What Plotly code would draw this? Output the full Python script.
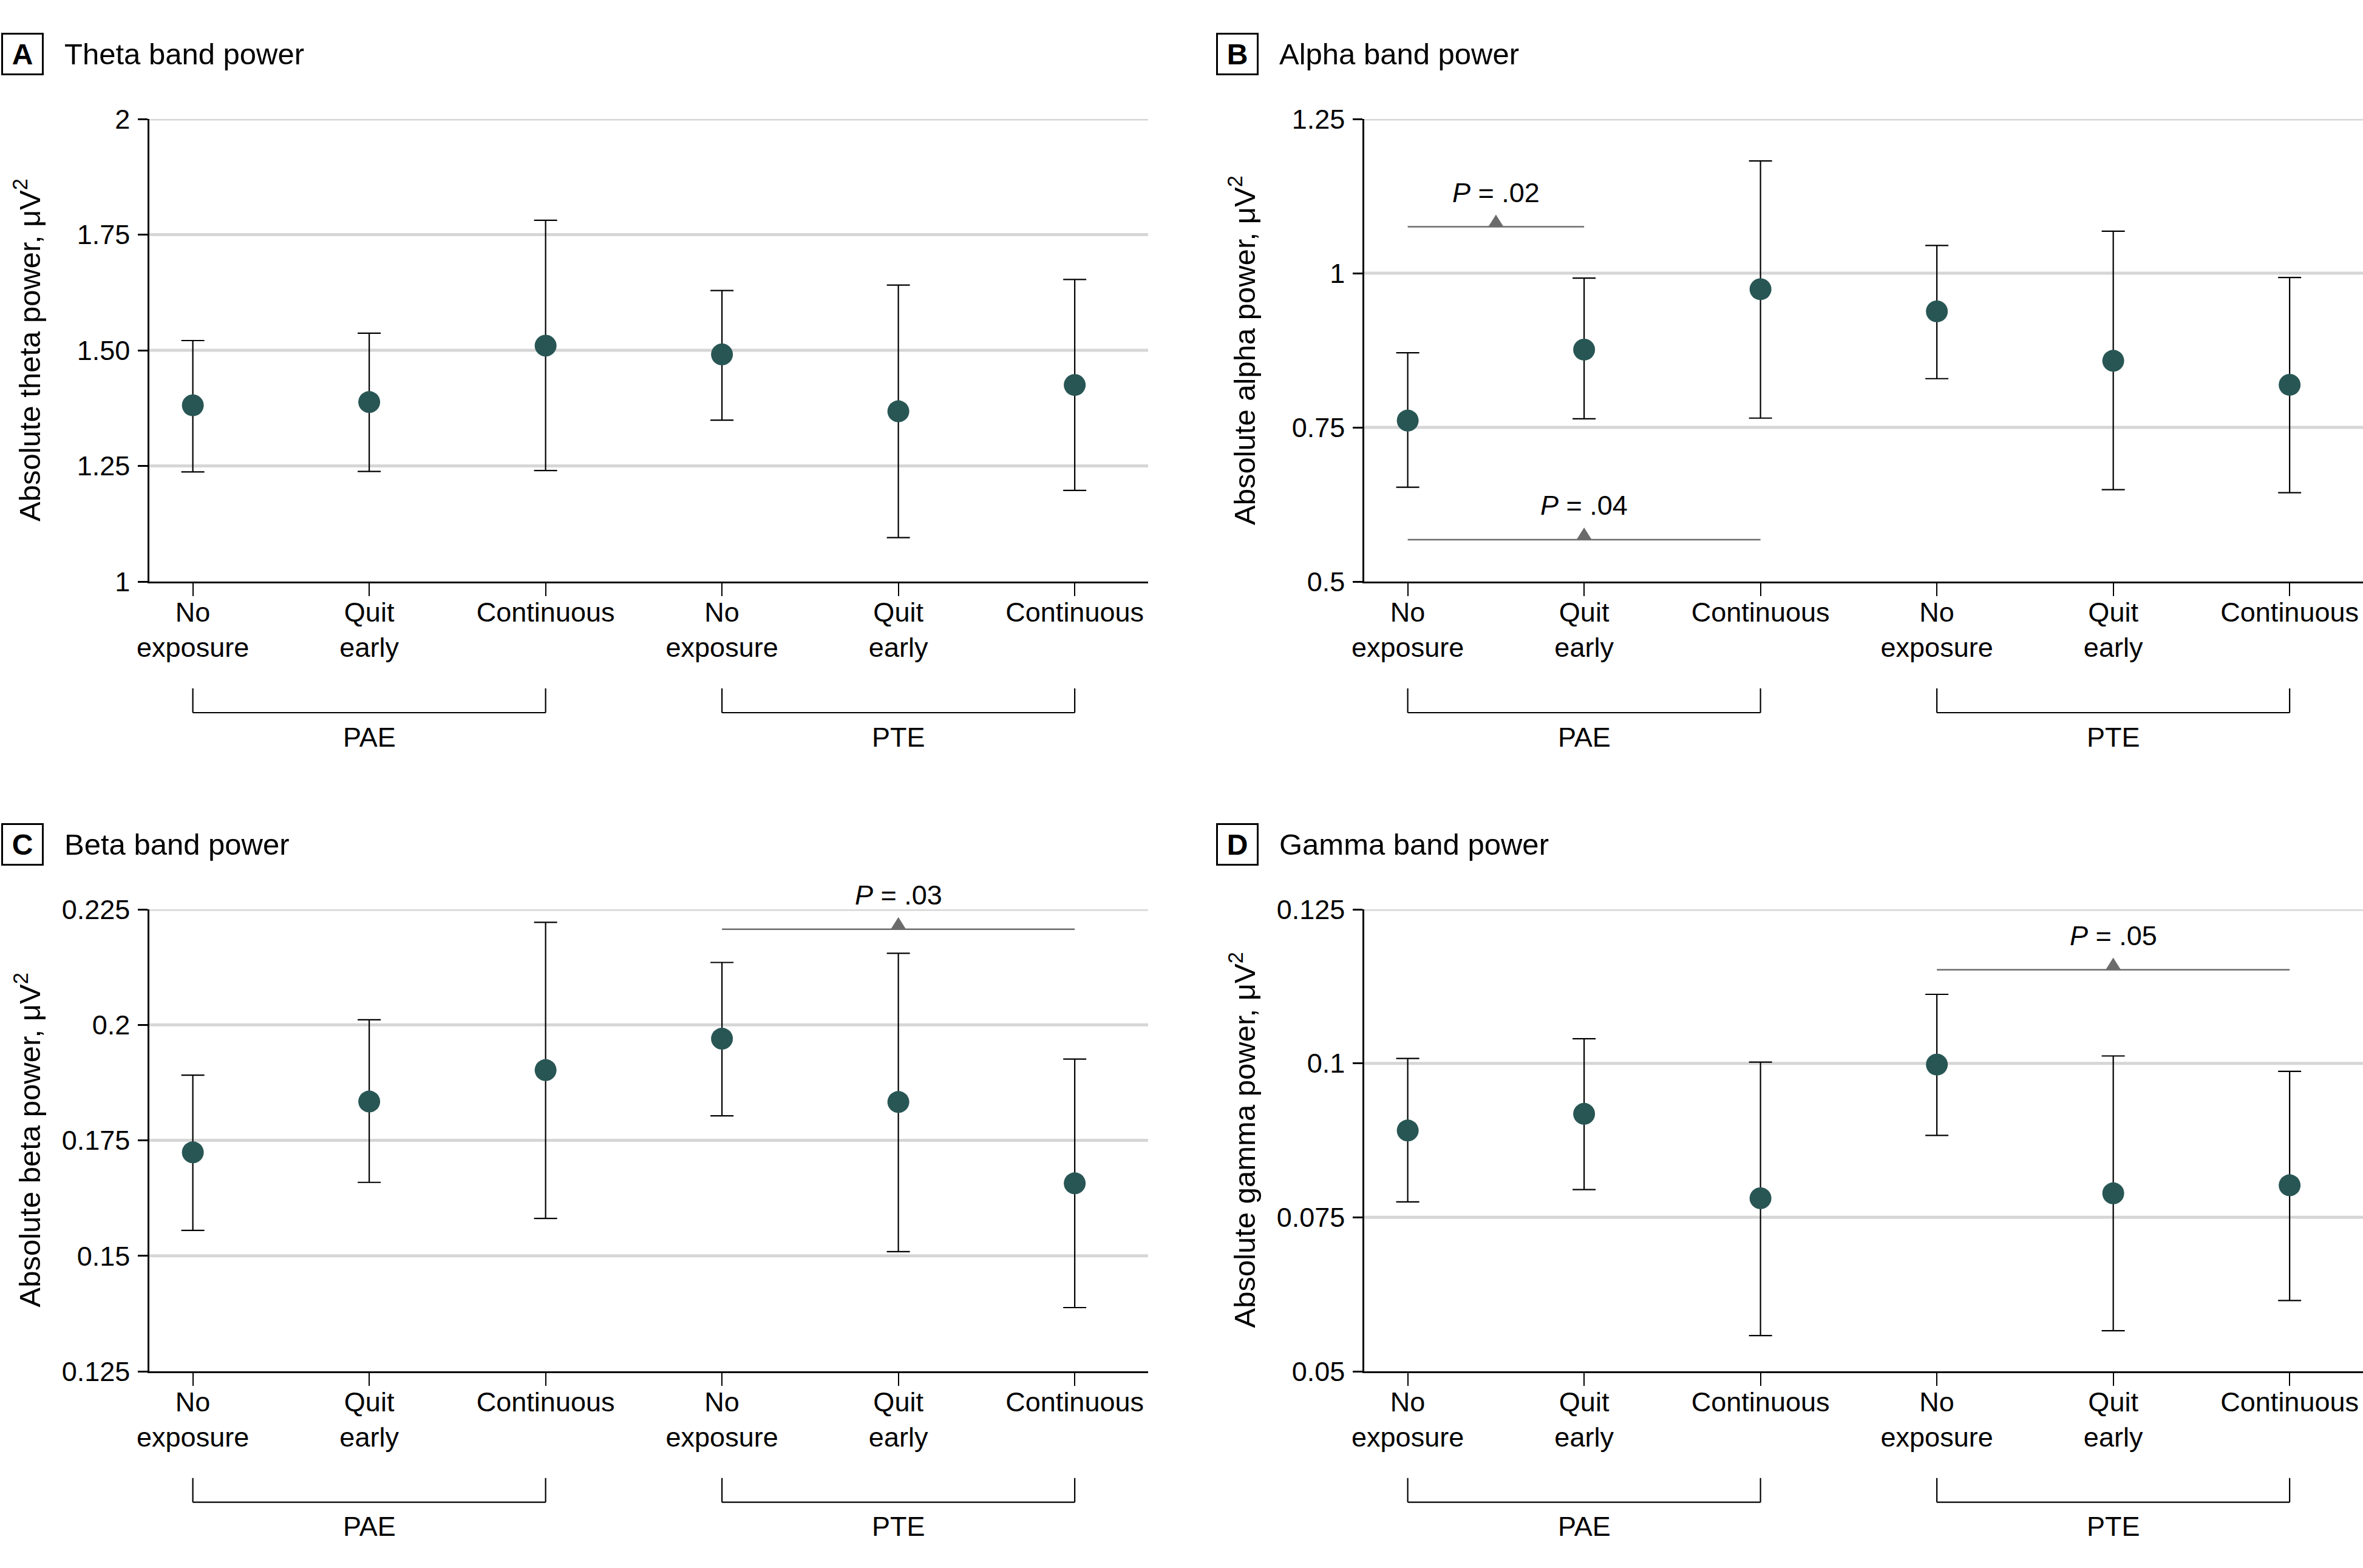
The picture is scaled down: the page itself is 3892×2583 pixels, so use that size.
import plotly.graph_objects as go

# ---------------- data ----------------
categories = ["No<br>exposure", "Quit<br>early", "Continuous",
              "No<br>exposure", "Quit<br>early", "Continuous"]
cat_pos = [0, 1, 2, 3, 4, 5]
groups = ["PAE", "PTE"]
group_spans = [(0, 2), (3, 5)]

theta_mean = [1.381, 1.388, 1.510, 1.491, 1.368, 1.425]
theta_low = [1.237, 1.238, 1.240, 1.349, 1.095, 1.197]
theta_high = [1.521, 1.537, 1.781, 1.629, 1.641, 1.653]

alpha_mean = [0.761, 0.876, 0.974, 0.938, 0.858, 0.819]
alpha_low = [0.653, 0.764, 0.765, 0.829, 0.649, 0.644]
alpha_high = [0.871, 0.992, 1.182, 1.045, 1.068, 0.993]

beta_mean = [0.1724, 0.1834, 0.1902, 0.1970, 0.1833, 0.1657]
beta_low = [0.1555, 0.1659, 0.1581, 0.1803, 0.1509, 0.1388]
beta_high = [0.1891, 0.2011, 0.2222, 0.2135, 0.2155, 0.1926]

gamma_mean = [0.0891, 0.0918, 0.0781, 0.0998, 0.0789, 0.0802]
gamma_low = [0.0775, 0.0795, 0.0558, 0.0883, 0.0566, 0.0615]
gamma_high = [0.1008, 0.1040, 0.1002, 0.1112, 0.1012, 0.0987]

# significance comparisons: (from category, to category, label, bracket value)
alpha_sig = [(0, 1, ".02", 1.0754), (0, 2, ".04", 0.568)]
beta_sig = [(3, 5, ".03", 0.2207)]
gamma_sig = [(3, 5, ".05", 0.1152)]

panels = [
    dict(letter="A", title="Theta band power", ylabel="Absolute theta power, μV<sup>2</sup>",
         mean=theta_mean, low=theta_low, high=theta_high, yrange=[1, 2],
         tickvals=[1, 1.25, 1.5, 1.75, 2], ticktext=["1", "1.25", "1.50", "1.75", "2"], sig=[]),
    dict(letter="B", title="Alpha band power", ylabel="Absolute alpha power, μV<sup>2</sup>",
         mean=alpha_mean, low=alpha_low, high=alpha_high, yrange=[0.5, 1.25],
         tickvals=[0.5, 0.75, 1, 1.25], ticktext=["0.5", "0.75", "1", "1.25"], sig=alpha_sig),
    dict(letter="C", title="Beta band power", ylabel="Absolute beta power, μV<sup>2</sup>",
         mean=beta_mean, low=beta_low, high=beta_high, yrange=[0.125, 0.225],
         tickvals=[0.125, 0.15, 0.175, 0.2, 0.225], ticktext=["0.125", "0.15", "0.175", "0.2", "0.225"],
         sig=beta_sig),
    dict(letter="D", title="Gamma band power", ylabel="Absolute gamma power, μV<sup>2</sup>",
         mean=gamma_mean, low=gamma_low, high=gamma_high, yrange=[0.05, 0.125],
         tickvals=[0.05, 0.075, 0.1, 0.125], ticktext=["0.05", "0.075", "0.1", "0.125"], sig=gamma_sig),
]

# ---------------- layout constants ----------------
W, H = 3892, 2583
FONT = "Liberation Sans, Arial, sans-serif"
MARK = "#285654"
SIGC = "#6b6b6b"
GRID = "#d6d6d6"
x_domains = [[246 / W, 1891 / W], [2247 / W, 1.0]]
y_domains = [[1 - 958 / H, 1 - 196 / H], [1 - 2259 / H, 1 - 1498 / H]]
PLOT_W = 1645
PLOT_H = 762
XRANGE = [-0.2465, 5.416]

fig = go.Figure()
layout = dict(width=W, height=H,
              margin=dict(l=0, r=0, t=0, b=0, pad=0, autoexpand=False),
              paper_bgcolor="white", plot_bgcolor="white", showlegend=False,
              font=dict(family=FONT, size=45, color="black"))
shapes = []
annotations = []

for i, p in enumerate(panels):
    row, col = divmod(i, 2)
    n = "" if i == 0 else str(i + 1)
    xa, ya = "x" + n, "y" + n
    xd, yd = xa + " domain", ya + " domain"

    # horizontal grid lines (all ticks except the bottom one, which is the axis)
    for v in p["tickvals"]:
        if v == p["yrange"][0]:
            continue
        shapes.append(dict(type="line", xref=xd, yref=ya, x0=0, x1=1, y0=v, y1=v,
                           layer="below", line=dict(color=GRID, width=5)))

    err_plus = [h - m for h, m in zip(p["high"], p["mean"])]
    err_minus = [m - l for m, l in zip(p["mean"], p["low"])]
    fig.add_trace(go.Scatter(
        x=cat_pos, y=p["mean"], mode="markers", xaxis=xa, yaxis=ya,
        marker=dict(size=36, color=MARK),
        error_y=dict(type="data", array=err_plus, arrayminus=err_minus,
                     color="black", thickness=2.2, width=19),
        hoverinfo="skip", cliponaxis=False))
    layout["xaxis" + n] = dict(
        domain=x_domains[col], anchor=ya, range=XRANGE, automargin=False,
        tickvals=cat_pos, ticktext=categories, showgrid=False, zeroline=False,
        showline=True, linecolor="black", linewidth=2.5,
        ticks="outside", ticklen=21, tickwidth=2, tickcolor="black",
        tickfont=dict(family=FONT, size=45, color="black"), ticklabelstandoff=-12)
    layout["yaxis" + n] = dict(
        domain=y_domains[row], anchor=xa, range=p["yrange"], automargin=False,
        tickvals=p["tickvals"], ticktext=p["ticktext"],
        showgrid=False, zeroline=False,
        showline=True, linecolor="black", linewidth=2.5,
        ticks="outside", ticklen=16, tickwidth=2.5, tickcolor="black",
        tickfont=dict(family=FONT, size=45, color="black"), ticklabelstandoff=4)

    # panel letter box
    annotations.append(dict(
        xref=xd, yref=yd, x=-209 / PLOT_W, y=1 + 107 / PLOT_H, xanchor="center", yanchor="middle",
        text="<b>" + p["letter"] + "</b>", showarrow=False, font=dict(family=FONT, size=48),
        bordercolor="black", borderwidth=3, borderpad=0, width=64, height=64, align="center"))
    # panel title
    annotations.append(dict(
        xref=xd, yref=yd, x=-142 / PLOT_W, y=1 + 107 / PLOT_H, xanchor="left", yanchor="middle",
        text=p["title"], showarrow=False, font=dict(family=FONT, size=49)))
    # y-axis title
    annotations.append(dict(
        xref=xd, yref=yd, x=-201 / PLOT_W, y=0.5, xanchor="center", yanchor="middle",
        text=p["ylabel"], textangle=-90, showarrow=False, font=dict(family=FONT, size=49)))
    # group brackets below the x axis
    for g, (a, b) in zip(groups, group_spans):
        top, bot = -176 / PLOT_H, -216 / PLOT_H
        for (x0, y0, x1, y1) in [(a, top, a, bot), (a, bot, b, bot), (b, top, b, bot)]:
            shapes.append(dict(type="line", xref=xa, yref=yd, x0=x0, y0=y0, x1=x1, y1=y1,
                               line=dict(color="black", width=2.2)))
        annotations.append(dict(
            xref=xa, yref=yd, x=(a + b) / 2, y=-256 / PLOT_H, xanchor="center", yanchor="middle",
            text=g, showarrow=False, font=dict(family=FONT, size=45)))
    # significance brackets
    for (a, b, lab, yv) in p["sig"]:
        mid = (a + b) / 2
        shapes.append(dict(type="line", xref=xa, yref=ya, x0=a, x1=b, y0=yv, y1=yv,
                           line=dict(color=SIGC, width=2.5)))
        shapes.append(dict(type="path", xref=xa, yref=ya, xsizemode="pixel", ysizemode="pixel",
                           xanchor=mid, yanchor=yv, path="M -12.5 0 L 12.5 0 L 0 20 Z",
                           fillcolor=SIGC, line=dict(width=0)))
        annotations.append(dict(
            xref=xa, yref=ya, x=mid, y=yv, yshift=56, xanchor="center", yanchor="middle",
            text="<i>P</i> = " + lab, showarrow=False, font=dict(family=FONT, size=45)))

layout["shapes"] = shapes
layout["annotations"] = annotations
fig.update_layout(**layout)

fig.write_html("out.html", config={"displayModeBar": False},
               post_script="document.body.style.margin='0';document.body.style.overflow='hidden';")
